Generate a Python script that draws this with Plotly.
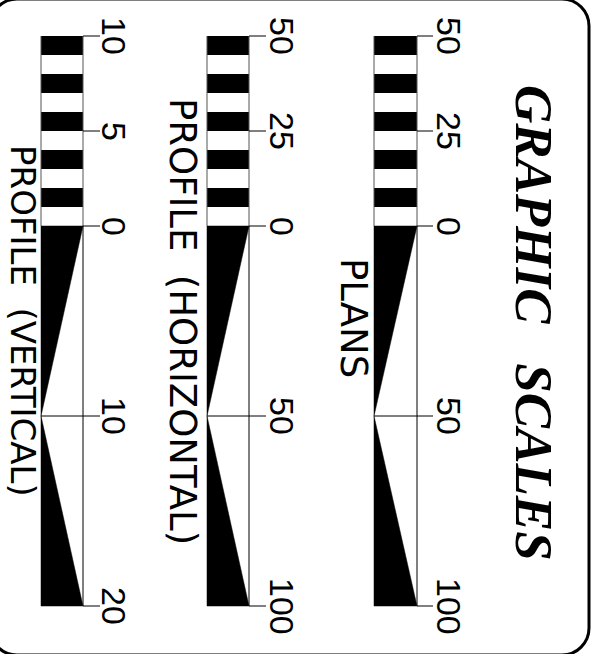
import plotly.graph_objects as go

# ---------------- data ----------------
title_text = "GRAPHIC\u00a0\u00a0\u00a0SCALES"
scale_names = ["PLANS", "PROFILE\u00a0\u00a0(HORIZONTAL)", "PROFILE\u00a0\u00a0(VERTICAL)"]

plans_band_edges = [-50, -45, -40, -35, -30, -25, -20, -15, -10, -5, 0]
plans_ticks = [-50, -25, 0, 50, 100]
plans_labels = ["50", "25", "0", "50", "100"]
plans_mid, plans_end = 50, 100

horiz_band_edges = [-50, -45, -40, -35, -30, -25, -20, -15, -10, -5, 0]
horiz_ticks = [-50, -25, 0, 50, 100]
horiz_labels = ["50", "25", "0", "50", "100"]
horiz_mid, horiz_end = 50, 100

vert_band_edges = [-10, -9, -8, -7, -6, -5, -4, -3, -2, -1, 0]
vert_ticks = [-10, -5, 0, 10, 20]
vert_labels = ["10", "5", "0", "10", "20"]
vert_mid, vert_end = 10, 20

# ---------------- layout constants (pixels) ----------------
W, H = 592, 654
ZERO_PX = 226          # pixel row of the 0 mark
LEFT_PX = 36           # pixel row of the left (checker) end
WORD_FONT = "DejaVu Sans"
NUM_FONT = "Liberation Sans"

scales = [
    dict(edges=plans_band_edges, ticks=plans_ticks, labels=plans_labels, mid=plans_mid, end=plans_end,
         xl=374, xr=417, xt=433, xlab=449, xname=354, yname=318, nsize=37,
         name=scale_names[0], axis="y2"),
    dict(edges=horiz_band_edges, ticks=horiz_ticks, labels=horiz_labels, mid=horiz_mid, end=horiz_end,
         xl=207, xr=249, xt=266, xlab=282, xname=183, yname=321, nsize=37,
         name=scale_names[1], axis="y3"),
    dict(edges=vert_band_edges, ticks=vert_ticks, labels=vert_labels, mid=vert_mid, end=vert_end,
         xl=41, xr=83, xt=100, xlab=114, xname=23, yname=321, nsize=34,
         name=scale_names[2], axis="y4"),
]

fig = go.Figure()
annotations = []

for s in scales:
    ax = s["axis"]
    start = s["edges"][0]
    ppu = (ZERO_PX - LEFT_PX) / (0 - start)        # pixels per unit
    top_val = start - LEFT_PX / ppu
    bot_val = top_val + H / ppu
    s["range"] = [bot_val, top_val]
    xc = (s["xl"] + s["xr"]) / 2
    bw = s["xr"] - s["xl"]
    bases = s["edges"][:-1]
    lens = [b - a for a, b in zip(s["edges"][:-1], s["edges"][1:])]
    colors = ["black" if i % 2 == 0 else "white" for i in range(len(bases))]
    fig.add_trace(go.Bar(x=[xc] * len(bases), y=lens, base=bases, width=bw,
                         marker=dict(color=colors, line=dict(width=0)),
                         yaxis=ax, hoverinfo="skip", showlegend=False))
    # outline of checker section
    fig.add_trace(go.Scatter(x=[s["xl"], s["xl"], None, s["xr"], s["xr"]],
                             y=[start, 0, None, start, 0], mode="lines",
                             line=dict(color="#555", width=1), yaxis=ax,
                             hoverinfo="skip", showlegend=False))
    # wedges
    fig.add_trace(go.Scatter(x=[s["xl"], s["xr"], s["xl"], s["xl"]],
                             y=[0, 0, s["mid"], 0], mode="lines", fill="toself",
                             fillcolor="black", line=dict(color="black", width=0.5),
                             yaxis=ax, hoverinfo="skip", showlegend=False))
    fig.add_trace(go.Scatter(x=[s["xl"], s["xl"], s["xr"], s["xl"]],
                             y=[s["mid"], s["end"], s["end"], s["mid"]], mode="lines", fill="toself",
                             fillcolor="black", line=dict(color="black", width=0.5),
                             yaxis=ax, hoverinfo="skip", showlegend=False))
    # right edge of wedge section, ticks and mid line
    lx, ly = [s["xr"], s["xr"], None], [0, s["end"], None]
    for t in s["ticks"]:
        x0 = s["xl"] if t == s["mid"] else s["xr"]
        lx += [x0, s["xt"], None]
        ly += [t, t, None]
    fig.add_trace(go.Scatter(x=lx, y=ly, mode="lines", line=dict(color="black", width=1),
                             yaxis=ax, hoverinfo="skip", showlegend=False))
    for t, lab in zip(s["ticks"], s["labels"]):
        annotations.append(dict(x=s["xlab"], y=t, xref="x", yref=ax, text=lab, showarrow=False,
                                textangle=90, xanchor="center", yanchor="middle",
                                font=dict(family=NUM_FONT, size=34, color="black")))
    annotations.append(dict(x=s["xname"], y=s["yname"], xref="x", yref="y", text=s["name"],
                            showarrow=False, textangle=90, xanchor="center", yanchor="middle",
                            font=dict(family=WORD_FONT, size=s["nsize"], color="black")))

annotations.append(dict(x=534, y=323, xref="x", yref="y", text=title_text, showarrow=False,
                        textangle=90, xanchor="center", yanchor="middle",
                        font=dict(family="Liberation Serif", size=53, color="black",
                                  weight="bold", style="italic")))

# rounded frame
x0, x1, y0, y1, r = -10, 589, -1, 655, 27
k = 0.552 * r
frame = (f"M {x0+r},{y0} L {x1-r},{y0} C {x1-r+k},{y0} {x1},{y0+r-k} {x1},{y0+r} "
         f"L {x1},{y1-r} C {x1},{y1-r+k} {x1-r+k},{y1} {x1-r},{y1} "
         f"L {x0+r},{y1} C {x0+r-k},{y1} {x0},{y1-r+k} {x0},{y1-r} "
         f"L {x0},{y0+r} C {x0},{y0+r-k} {x0+r-k},{y0} {x0+r},{y0} Z")

hidden = dict(visible=False, fixedrange=True)
fig.update_layout(
    width=W, height=H, margin=dict(l=0, r=0, t=0, b=0, pad=0),
    paper_bgcolor="white", plot_bgcolor="white", barmode="overlay", bargap=0,
    showlegend=False,
    xaxis=dict(range=[0, W], **hidden),
    yaxis=dict(range=[H, 0], **hidden),
    yaxis2=dict(range=scales[0]["range"], overlaying="y", **hidden),
    yaxis3=dict(range=scales[1]["range"], overlaying="y", **hidden),
    yaxis4=dict(range=scales[2]["range"], overlaying="y", **hidden),
    shapes=[dict(type="path", path=frame, xref="x", yref="y", line=dict(color="black", width=3))],
    annotations=annotations,
)

fig.write_html("out.html", config=dict(displayModeBar=False, staticPlot=True),
               post_script="document.body.style.margin='0';document.body.style.overflow='hidden';")
